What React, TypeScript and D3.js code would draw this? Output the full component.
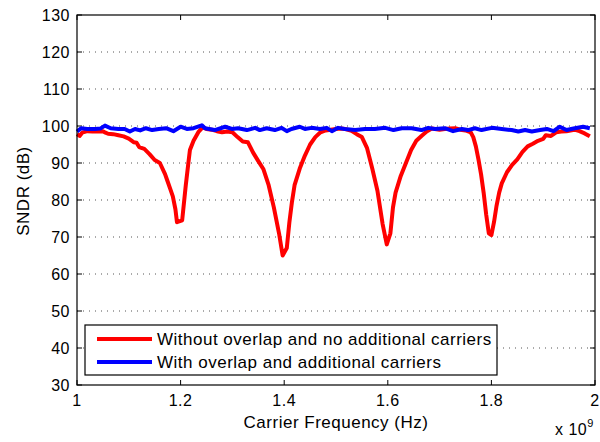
import React from "react";
import * as d3 from "d3";

const xTicks = [1, 1.2, 1.4, 1.6, 1.8, 2];
const xTickLabels = ["1", "1.2", "1.4", "1.6", "1.8", "2"];
const yTicks = [30, 40, 50, 60, 70, 80, 90, 100, 110, 120, 130];

const redFreq = [
  1.0, 1.005, 1.01, 1.02, 1.03, 1.04, 1.05, 1.055, 1.06, 1.07, 1.08, 1.09, 1.1, 1.11, 1.115, 1.12, 1.13, 1.14,
  1.15, 1.16, 1.17, 1.175, 1.18, 1.185, 1.19, 1.193, 1.203, 1.21, 1.215, 1.218, 1.225, 1.235, 1.243, 1.25,
  1.26, 1.27, 1.28, 1.29, 1.3, 1.31, 1.32, 1.33, 1.34, 1.35, 1.36, 1.37, 1.38, 1.39, 1.397, 1.405, 1.41,
  1.415, 1.42, 1.43, 1.44, 1.45, 1.46, 1.47, 1.48, 1.49, 1.5, 1.51, 1.52, 1.53, 1.54, 1.55, 1.56, 1.57,
  1.58, 1.59, 1.598, 1.605, 1.61, 1.615, 1.625, 1.635, 1.645, 1.655, 1.665, 1.675, 1.685, 1.7, 1.71, 1.72,
  1.73, 1.74, 1.75, 1.76, 1.765, 1.77, 1.775, 1.78, 1.785, 1.79, 1.795, 1.8, 1.805, 1.81, 1.815, 1.82,
  1.83, 1.84, 1.85, 1.86, 1.87, 1.88, 1.89, 1.9, 1.905, 1.915, 1.925, 1.935, 1.945, 1.96, 1.97, 1.98, 1.99,
];
const redSndr = [
  97.8, 97.3, 98.2, 98.6, 98.5, 98.5, 98.6, 98.2, 97.9, 97.8, 97.5, 97.2, 96.6, 95.6, 95.5, 94.3, 93.8, 92.4,
  90.8, 90.0, 87.0, 85.0, 83.0, 81.0, 77.5, 74.0, 74.5, 84.0, 90.0, 93.5, 96.0, 98.5, 99.7, 99.2,
  99.0, 98.6, 98.3, 98.5, 98.3, 97.0, 95.8, 95.6, 92.8, 90.5, 88.3, 84.0, 78.0, 71.0, 65.0, 67.0, 74.0,
  79.5, 84.0, 88.5, 92.0, 95.0, 97.0, 98.3, 98.8, 99.0, 99.2, 99.3, 99.1, 98.7, 97.8, 97.0, 94.0, 88.5,
  82.5, 73.5, 68.0, 71.0, 78.0, 82.0, 86.5, 90.0, 93.5, 96.0, 97.3, 98.5, 99.3, 99.0, 99.2, 99.3,
  99.4, 99.0, 98.8, 98.3, 97.0, 94.5, 91.0, 87.0, 82.0, 76.0, 71.0, 70.5, 74.0, 78.5, 82.0, 84.5,
  87.5, 89.5, 91.0, 93.0, 94.5, 95.2, 96.0, 96.5, 97.5, 97.3, 98.3, 98.5, 98.6, 99.0, 98.6, 98.0, 97.2,
];

const blueFreq = [
  1.0, 1.008, 1.02, 1.035, 1.045, 1.054, 1.065, 1.08, 1.092, 1.102, 1.112, 1.122, 1.133, 1.145, 1.158, 1.172,
  1.186, 1.2, 1.212, 1.225, 1.241, 1.247, 1.266, 1.286, 1.299, 1.311, 1.328, 1.344, 1.353, 1.366, 1.382,
  1.395, 1.405, 1.414, 1.43, 1.44, 1.453, 1.469, 1.482, 1.492, 1.504, 1.517, 1.537, 1.556, 1.575, 1.595,
  1.611, 1.627, 1.646, 1.665, 1.678, 1.691, 1.71, 1.726, 1.743, 1.755, 1.768, 1.781, 1.801, 1.82, 1.839,
  1.852, 1.865, 1.878, 1.894, 1.907, 1.92, 1.932, 1.945, 1.961, 1.977, 1.99,
];
const blueSndr = [
  98.5, 99.4, 99.2, 99.2, 99.3, 100.1, 99.4, 99.2, 99.2, 98.5, 99.2, 98.8, 99.4, 98.9, 99.2, 99.4,
  98.6, 99.8, 99.2, 99.4, 100.2, 99.4, 98.9, 99.8, 99.2, 99.4, 98.9, 99.5, 98.9, 99.4, 98.9,
  99.5, 98.6, 99.2, 99.8, 99.2, 99.5, 99.2, 99.5, 98.6, 99.5, 99.2, 98.9, 99.2, 99.2, 99.5,
  98.9, 99.4, 99.4, 98.9, 99.5, 99.2, 99.4, 98.6, 99.2, 98.9, 99.4, 98.9, 99.5, 99.2, 98.9,
  98.5, 98.9, 98.5, 98.9, 99.2, 98.6, 99.8, 98.9, 99.4, 99.8, 99.4,
];

const seriesNames = ["Without overlap and no additional carriers", "With overlap and additional carriers"];
const seriesColors = ["#ff0000", "#0000ff"];

const W = 600;
const H = 442;
const M = { left: 77, right: 595, top: 15, bottom: 385 };
const FONT = "'Liberation Sans', Arial, Helvetica, sans-serif";

export default function App() {
  const x = d3.scaleLinear().domain([1, 2]).range([M.left, M.right]);
  const y = d3.scaleLinear().domain([30, 130]).range([M.bottom, M.top]);
  const line = d3
    .line<[number, number]>()
    .x((d) => x(d[0]))
    .y((d) => y(d[1]));
  const redPts = redFreq.map((f, i) => [f, redSndr[i]] as [number, number]);
  const bluePts = blueFreq.map((f, i) => [f, blueSndr[i]] as [number, number]);
  const tickLen = 5;

  return (
    <svg
      width={W}
      height={H}
      style={{ position: "absolute", left: 0, top: 0, background: "#fff" }}
      fontFamily={FONT}
    >
      <rect x={0} y={0} width={W} height={H} fill="#fff" />
      {yTicks.slice(1, -1).map((t) => (
        <line
          key={"g" + t}
          x1={M.left}
          x2={M.right}
          y1={y(t)}
          y2={y(t)}
          stroke="#555"
          strokeWidth={1}
          strokeDasharray="1,5"
        />
      ))}
      {yTicks.map((t) => (
        <g key={"yt" + t}>
          <line x1={M.left} x2={M.left + tickLen} y1={y(t)} y2={y(t)} stroke="#000" />
          <line x1={M.right} x2={M.right - tickLen} y1={y(t)} y2={y(t)} stroke="#000" />
          <text
            x={70}
            y={y(t)}
            dy="0.36em"
            textAnchor="end"
            fontSize={16}
            letterSpacing={0.5}
            fill="#000"
          >
            {t}
          </text>
        </g>
      ))}
      {xTicks.map((t, i) => (
        <g key={"xt" + t}>
          <line x1={x(t)} x2={x(t)} y1={M.bottom} y2={M.bottom - tickLen} stroke="#000" />
          <line x1={x(t)} x2={x(t)} y1={M.top} y2={M.top + tickLen} stroke="#000" />
          <text x={x(t)} y={406} textAnchor="middle" fontSize={16} letterSpacing={0.5} fill="#000">
            {xTickLabels[i]}
          </text>
        </g>
      ))}
      <path d={line(redPts) || ""} fill="none" stroke={seriesColors[0]} strokeWidth={4} strokeLinejoin="round" />
      <path d={line(bluePts) || ""} fill="none" stroke={seriesColors[1]} strokeWidth={4} strokeLinejoin="round" />
      <rect
        x={M.left}
        y={M.top}
        width={M.right - M.left}
        height={M.bottom - M.top}
        fill="none"
        stroke="#000"
        strokeWidth={1.2}
      />
      <g>
        <rect x={85} y={325} width={412} height={50} fill="#fff" stroke="#000" strokeWidth={1.2} />
        {seriesNames.map((n, i) => (
          <g key={n}>
            <line
              x1={97}
              x2={152}
              y1={339 + i * 23}
              y2={339 + i * 23}
              stroke={seriesColors[i]}
              strokeWidth={4}
            />
            <text x={157} y={339 + i * 23} dy="0.36em" fontSize={17} letterSpacing={0.5} fill="#000">
              {n}
            </text>
          </g>
        ))}
      </g>
      <text x={(M.left + M.right) / 2} y={428} textAnchor="middle" fontSize={17} letterSpacing={0.5} fill="#000">
        Carrier Frequency (Hz)
      </text>
      <text
        transform={`translate(29,191) rotate(-90)`}
        textAnchor="middle"
        fontSize={17}
        letterSpacing={0.5}
        fill="#000"
      >
        SNDR (dB)
      </text>
      <text x={555} y={435} fontSize={16} letterSpacing={0.5} fill="#000">
        x 10
        <tspan dy={-8} fontSize={11}>
          9
        </tspan>
      </text>
    </svg>
  );
}
